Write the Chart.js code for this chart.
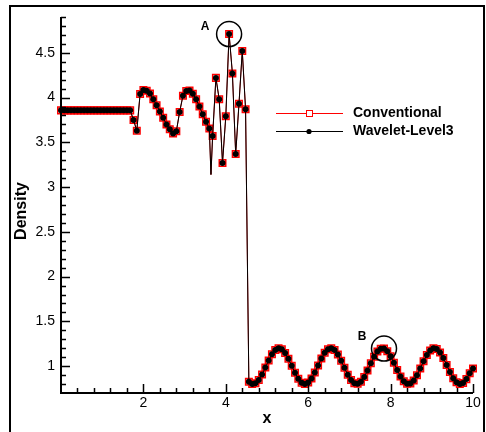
<!DOCTYPE html>
<html>
<head>
<meta charset="utf-8">
<script src="https://cdn.jsdelivr.net/npm/chart.js@4.4.0/dist/chart.umd.min.js"></script>
<style>
  html, body { margin: 0; padding: 0; background: #fff; }
</style>
</head>
<body>
<canvas id="chart" width="486" height="432"></canvas>
<script>
/* ================= DATA ================= */
// grid nodes (dx = 0.08); the node at 3.64 is plotted as line only
const xValues = [
  0.00, 0.08, 0.16, 0.24, 0.32, 0.40, 0.48, 0.56, 0.64, 0.72,
  0.80, 0.88, 0.96, 1.04, 1.12, 1.20, 1.28, 1.36, 1.44, 1.52,
  1.60, 1.68, 1.76, 1.84, 1.92, 2.00, 2.08, 2.16, 2.24, 2.32,
  2.40, 2.48, 2.56, 2.64, 2.72, 2.80, 2.88, 2.96, 3.04, 3.12,
  3.20, 3.28, 3.36, 3.44, 3.52, 3.60, 3.64, 3.68, 3.76, 3.84,
  3.92, 4.00, 4.08, 4.16, 4.24, 4.32, 4.40, 4.48, 4.56, 4.64,
  4.72, 4.80, 4.88, 4.96, 5.04, 5.12, 5.20, 5.28, 5.36, 5.44,
  5.52, 5.60, 5.68, 5.76, 5.84, 5.92, 6.00, 6.08, 6.16, 6.24,
  6.32, 6.40, 6.48, 6.56, 6.64, 6.72, 6.80, 6.88, 6.96, 7.04,
  7.12, 7.20, 7.28, 7.36, 7.44, 7.52, 7.60, 7.68, 7.76, 7.84,
  7.92, 8.00, 8.08, 8.16, 8.24, 8.32, 8.40, 8.48, 8.56, 8.64,
  8.72, 8.80, 8.88, 8.96, 9.04, 9.12, 9.20, 9.28, 9.36, 9.44,
  9.52, 9.60, 9.68, 9.76, 9.84, 9.92, 10.00
];

const conventional = [
  3.857, 3.857, 3.857, 3.857, 3.857, 3.857, 3.857, 3.857, 3.857, 3.857,
  3.857, 3.857, 3.857, 3.857, 3.857, 3.857, 3.857, 3.857, 3.857, 3.857,
  3.857, 3.857, 3.750, 3.630, 4.040, 4.085, 4.075, 4.045, 3.980, 3.915,
  3.845, 3.775, 3.700, 3.645, 3.600, 3.625, 3.840, 4.020, 4.074, 4.078,
  4.044, 3.980, 3.900, 3.813, 3.730, 3.655, 3.140, 3.570, 4.220, 3.980,
  3.270, 3.790, 4.710, 4.270, 3.370, 3.930, 4.520, 3.870, 0.825, 0.801,
  0.808, 0.846, 0.908, 0.984, 1.063, 1.132, 1.180, 1.200, 1.188, 1.146,
  1.082, 1.004, 0.926, 0.859, 0.815, 0.800, 0.816, 0.862, 0.929, 1.008,
  1.085, 1.149, 1.189, 1.200, 1.179, 1.129, 1.060, 0.981, 0.905, 0.844,
  0.808, 0.802, 0.827, 0.880, 0.951, 1.031, 1.105, 1.163, 1.195, 1.197,
  1.167, 1.111, 1.037, 0.958, 0.885, 0.830, 0.802, 0.806, 0.840, 0.899,
  0.974, 1.054, 1.125, 1.176, 1.199, 1.191, 1.153, 1.091, 1.014, 0.935,
  0.866, 0.819, 0.800, 0.813, 0.855, 0.920, 0.975
];

// wavelet solution lies on top of the conventional one
const wavelet = [...conventional];

const unmarkedX = [3.64];

const xTicks = [2, 4, 6, 8, 10];
const yTicks = [1, 1.5, 2, 2.5, 3, 3.5, 4, 4.5];

const callouts = [
  { label: 'A', at: 4.08, dx: -24, dy: -7 },
  { label: 'B', at: 7.84, dx: -22, dy: -12 }
];

const FONT = "'Liberation Sans', Arial, Helvetica, sans-serif";

const toPoints = vals => vals.map((v, i) => ({ x: xValues[i], y: v }));
const markerRadius = r => ctx => unmarkedX.includes(xValues[ctx.dataIndex]) ? 0 : r;

/* ================= DECORATION ================= */
const decor = {
  id: 'decor',
  afterDraw(chart) {
    const { ctx, chartArea: a, scales: { x, y } } = chart;
    ctx.save();
    ctx.strokeStyle = '#000';
    ctx.fillStyle = '#000';

    // outer frame
    ctx.lineWidth = 2;
    ctx.beginPath();
    ctx.moveTo(10, 440); ctx.lineTo(10, 6); ctx.lineTo(484, 6); ctx.lineTo(484, 440);
    ctx.stroke();

    // axis lines
    ctx.beginPath();
    ctx.moveTo(a.left, a.top);
    ctx.lineTo(a.left, a.bottom);
    ctx.lineTo(a.right, a.bottom);
    ctx.stroke();

    // inward ticks
    ctx.lineWidth = 1.5;
    ctx.beginPath();
    for (let k = 1; k <= 25; k++) {
      const px = Math.round(x.getPixelForValue(k * 0.4)) + 0.5;
      const len = k % 5 === 0 ? 9 : 5;
      ctx.moveTo(px, a.bottom);
      ctx.lineTo(px, a.bottom - len);
    }
    for (let k = 8; k <= 49; k++) {
      const py = Math.round(y.getPixelForValue(k / 10)) + 0.5;
      const len = k % 5 === 0 ? 9 : 5;
      ctx.moveTo(a.left, py);
      ctx.lineTo(a.left + len, py);
    }
    ctx.stroke();

    // axis titles
    ctx.font = 'bold 16px ' + FONT;
    ctx.textAlign = 'center';
    ctx.textBaseline = 'middle';
    ctx.fillText('x', (a.left + a.right) / 2, 419);
    ctx.save();
    ctx.translate(22, 211);
    ctx.rotate(-Math.PI / 2);
    ctx.fillText('Density', 0, 0);
    ctx.restore();

    // legend
    ctx.lineWidth = 1;
    ctx.strokeStyle = '#ff0000';
    ctx.beginPath();
    ctx.moveTo(276, 113.5); ctx.lineTo(343, 113.5);
    ctx.stroke();
    ctx.fillStyle = '#fff';
    ctx.fillRect(306, 110.5, 6, 6);
    ctx.strokeRect(306.5, 110.5, 6, 6);
    ctx.strokeStyle = '#000';
    ctx.fillStyle = '#000';
    ctx.beginPath();
    ctx.moveTo(276, 131.5); ctx.lineTo(343, 131.5);
    ctx.stroke();
    ctx.beginPath();
    ctx.arc(309, 131.5, 2.6, 0, Math.PI * 2);
    ctx.fill();
    ctx.font = 'bold 14px ' + FONT;
    ctx.textAlign = 'left';
    ctx.fillText('Conventional', 353, 113);
    ctx.fillText('Wavelet-Level3', 353, 131);

    // callout circles
    ctx.font = 'bold 12px ' + FONT;
    ctx.textAlign = 'center';
    ctx.lineWidth = 1.5;
    callouts.forEach(c => {
      const i = xValues.indexOf(c.at);
      const cx = x.getPixelForValue(c.at);
      const cy = y.getPixelForValue(wavelet[i]);
      ctx.beginPath();
      ctx.arc(cx, cy, 12.5, 0, Math.PI * 2);
      ctx.stroke();
      ctx.fillText(c.label, cx + c.dx, cy + c.dy);
    });
    ctx.restore();
  }
};

/* ================= CHART ================= */
new Chart(document.getElementById('chart'), {
  type: 'line',
  data: {
    datasets: [
      {
        label: 'Wavelet-Level3',
        data: toPoints(wavelet),
        borderColor: '#000',
        borderWidth: 1,
        pointStyle: 'circle',
        pointRadius: markerRadius(3),
        pointBackgroundColor: '#000',
        pointBorderWidth: 0,
        order: 0,
        clip: false
      },
      {
        label: 'Conventional',
        data: toPoints(conventional),
        borderColor: '#d00000',
        borderWidth: 1,
        pointStyle: 'rect',
        pointRadius: markerRadius(4.6),
        pointBorderColor: '#ff0000',
        pointBackgroundColor: 'rgba(0,0,0,0)',
        pointBorderWidth: 1.5,
        order: 1,
        clip: false
      }
    ]
  },
  options: {
    responsive: false,
    devicePixelRatio: 1,
    animation: false,
    layout: { padding: { top: 17, right: 13, left: 0, bottom: 0 } },
    plugins: { legend: { display: false }, tooltip: { enabled: false } },
    elements: { line: { tension: 0 } },
    scales: {
      x: {
        type: 'linear',
        min: 0,
        max: 10,
        border: { display: false },
        grid: { display: false, drawTicks: false },
        afterBuildTicks: s => { s.ticks = xTicks.map(v => ({ value: v })); },
        afterFit: s => { s.height = 39; },
        ticks: { color: '#000', padding: 2, maxRotation: 0, callback: v => String(v), font: { family: FONT, size: 14 } }
      },
      y: {
        min: 0.7,
        max: 4.9,
        border: { display: false },
        grid: { display: false, drawTicks: false },
        afterBuildTicks: s => { s.ticks = yTicks.map(v => ({ value: v })); },
        afterFit: s => { s.width = 61; },
        ticks: { color: '#000', padding: 6, callback: v => String(v), font: { family: FONT, size: 14 } }
      }
    }
  },
  plugins: [decor]
});
</script>
</body>
</html>
